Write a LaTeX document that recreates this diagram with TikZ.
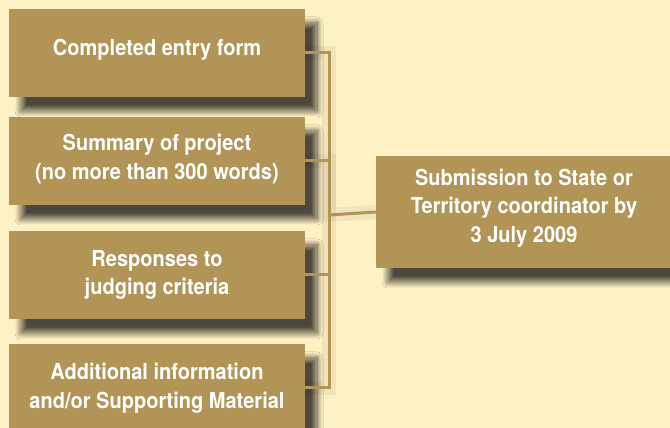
\documentclass[tikz,border=0pt]{standalone}
\usepackage{fontspec}
\setmainfont{TeX Gyre Heros}[FakeStretch=0.91]
\usetikzlibrary{positioning,backgrounds,shadows.blur}
\definecolor{boxtan}{HTML}{B29556}
\definecolor{paper}{HTML}{FEF1C4}
\newcommand{\lowpad}[1]{\rule[-#1]{0pt}{0pt}}

\begin{document}
\begin{tikzpicture}[x=1pt,y=1pt,
  entrybox/.style={fill=boxtan,text=white,align=center,
    font=\bfseries\fontsize{22}{28.5}\selectfont,
    minimum width=296pt,minimum height=88pt,inner sep=0pt,
    blur shadow={shadow xshift=12pt,shadow yshift=-14pt,
      shadow blur radius=6pt,shadow blur steps=24,shadow opacity=70}},
  link/.style={draw=boxtan,line width=3pt}]
\useasboundingbox (0,0) rectangle (670,428);
\clip (0,0) rectangle (670,428);

\node[entrybox] (form) at (157,375) {Completed entry form\lowpad{11.5pt}};
\node[entrybox] (summary) at (157,267) {Summary of project\\(no more than 300 words)\lowpad{8pt}};
\node[entrybox] (criteria) at (157,153) {Responses to\\judging criteria};
\node[entrybox] (extra) at (157,40) {Additional information\\and/or Supporting Material};
\node[entrybox,minimum height=112pt] (submit) at (524,216)
  {Submission to State or\\Territory coordinator by\\3 July 2009\lowpad{13pt}};

\coordinate (bus) at (329,213);

\draw[link] (form.east) -| (bus);
\draw[link] (summary.east) -| (bus);
\draw[link] (criteria.east) -| (bus);
\draw[link] (extra.east) -| (bus);
\draw[link] (bus) -- (submit.west);

\begin{scope}[on background layer]
  \fill[paper] (0,0) rectangle (670,428);
\end{scope}
% soft shadow under the links
\begin{scope}[on background layer,transform canvas={shift={(18pt,-16pt)}}]
  \draw[black,opacity=0.05,line width=14pt] (form.east) -| (bus) |- (extra.east);
  \draw[black,opacity=0.05,line width=14pt] (summary.east) -| (bus) -- (submit.west);
\end{scope}
\end{tikzpicture}
\end{document}
